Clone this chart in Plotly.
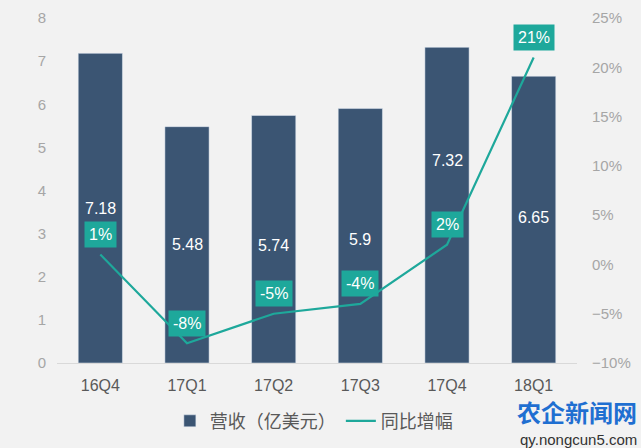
import plotly.graph_objects as go

quarters = ["16Q4", "17Q1", "17Q2", "17Q3", "17Q4", "18Q1"]
revenue = [7.18, 5.48, 5.74, 5.9, 7.32, 6.65]
growth = [1, -8, -5, -4, 2, 21]
revenue_labels = ["7.18", "5.48", "5.74", "5.9", "7.32", "6.65"]
growth_labels = ["1%", "-8%", "-5%", "-4%", "2%", "21%"]

bar_color = "#3b5573"
line_color = "#1ea89b"
font = "Liberation Sans, Arial, sans-serif"

fig = go.Figure()
fig.add_trace(go.Bar(
    x=quarters, y=revenue, name="营收（亿美元）",
    marker_color=bar_color, width=0.51, yaxis="y",
))
fig.add_trace(go.Scatter(
    x=quarters, y=growth, name="同比增幅", mode="lines",
    line=dict(color=line_color, width=2.2), yaxis="y2",
))

# bar value labels (17Q4 moved up to clear the line label)
label_shift = [0, 0, -6, -4, 45, 2]
for q, v, t, s in zip(quarters, revenue, revenue_labels, label_shift):
    fig.add_annotation(x=q, y=v / 2, yref="y", text=t, showarrow=False,
                       yshift=s, font=dict(color="white", size=16, family=font))

for q, v, t in zip(quarters, growth, growth_labels):
    fig.add_annotation(x=q, y=v, yref="y2", text=t, showarrow=False,
                       yshift=20, bgcolor=line_color, borderpad=4,
                       font=dict(color="white", size=16, family=font))

# watermark
fig.add_annotation(x=1.12, y=-0.14, xref="paper", yref="paper",
                   xanchor="right", yanchor="middle",
                   text="<b>农企新闻网</b>", showarrow=False,
                   font=dict(color="#1f6fd1", size=24, family="Noto Sans CJK SC"))
fig.add_annotation(x=1.12, y=-0.222, xref="paper", yref="paper",
                   xanchor="right", yanchor="middle",
                   text="qy.nongcun5.com", showarrow=False,
                   font=dict(color="#333333", size=15, family=font))

fig.update_layout(
    width=641, height=448,
    margin=dict(l=57, r=64, t=18, b=85, autoexpand=False),
    paper_bgcolor="#f2f2f2", plot_bgcolor="#f2f2f2",
    font=dict(family=font, color="#595959"),
    showlegend=True,
    legend=dict(orientation="h", x=0.265, y=0.06, xref="container", yref="container",
                xanchor="left", yanchor="middle",
                font=dict(size=18, color="#595959", family="Noto Sans CJK SC"),
                bgcolor="rgba(0,0,0,0)"),
    xaxis=dict(showgrid=False, showline=True, linecolor="#d9d9d9",
               tickfont=dict(size=16, color="#595959"), ticks="",
               ticklabelstandoff=8),
    yaxis=dict(range=[0, 8], dtick=1, showgrid=False, zeroline=False,
               tickfont=dict(size=15, color="#a6a6a6"), ticklabelstandoff=10),
    yaxis2=dict(range=[-10, 25], dtick=5, overlaying="y", side="right",
                showgrid=False, zeroline=False, ticksuffix="%",
                tickfont=dict(size=15, color="#a6a6a6"), ticklabelstandoff=14),
)

fig.write_html("out.html", config={"displayModeBar": False},
               post_script="document.body.style.margin='0';document.body.style.background='#f2f2f2';")
